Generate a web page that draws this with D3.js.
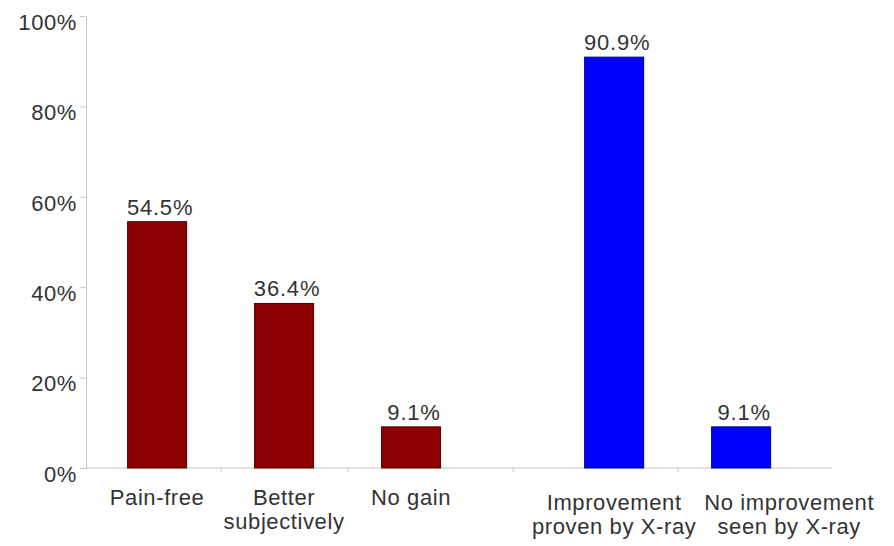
<!DOCTYPE html>
<html>
<head>
<meta charset="utf-8">
<script src="https://cdn.jsdelivr.net/npm/d3@7"></script>
<style>
  body { margin: 0; background: #fff; }
  text { font-family: "Liberation Sans", Arial, Helvetica, sans-serif; fill: #333; }
  .axis line, .axis path { stroke: #c8c8c8; }
</style>
</head>
<body>
<div id="chart"></div>
<script>
// data
const categories = ['Pain-free', 'Better subjectively', 'No gain', 'Improvement proven by X-ray', 'No improvement seen by X-ray'];
const labelLines = [['Pain-free'], ['Better', 'subjectively'], ['No gain'], ['Improvement', 'proven by X-ray'], ['No improvement', 'seen by X-ray']];
const values = [54.5, 36.4, 9.1, 90.9, 9.1];
const groups = [0, 0, 0, 1, 1];
const yTicks = [0, 20, 40, 60, 80, 100];

const width = 894;
const height = 546;
const colors = ['#8b0000', '#0000ff'];
const strokes = ['#5a0000', '#00008a'];
const groupGap = 0.6;   // extra slot space between the two groups
const barFrac = 0.465;  // bar width as part of a slot
const fontSize = '22px';
const labelTop = 505;
const lineGap = 24;

const svg = d3.select('#chart').append('svg')
    .attr('width', width)
    .attr('height', height);

const data = categories.map((c, i) => ({
  name: c,
  lines: labelLines[i],
  value: values[i],
  group: groups[i],
  slot: i + groups[i] * groupGap
}));

const x = d3.scaleLinear()
    .domain([-0.56, 5.3])
    .range([86, 830]);

const y = d3.scaleLinear()
    .domain([0, 100])
    .range([468, 16]);

const bw = x(barFrac) - x(0);

// y axis
const yAxis = svg.append('g')
    .attr('class', 'axis')
    .attr('transform', 'translate(' + x.range()[0] + ',0)')
    .call(d3.axisLeft(y).tickValues(yTicks).tickFormat(d => d + '%').tickSizeInner(6).tickSizeOuter(0));
yAxis.selectAll('text')
    .attr('x', -9)
    .attr('dy', '0.6em')
    .style('font-size', fontSize)
    .style('letter-spacing', '0.6px');

// x axis line with small ticks between bars
const mids = data.slice(1).map((d, i) => (d.slot + data[i].slot) / 2);
const xAxis = svg.append('g')
    .attr('class', 'axis')
    .attr('transform', 'translate(0,' + y(0) + ')')
    .call(d3.axisBottom(x).tickValues(mids).tickFormat('').tickSizeInner(4).tickSizeOuter(0));
xAxis.select('.domain').attr('d', 'M' + x.range()[0] + ',0H' + (x.range()[1] + 2));

// bars
svg.selectAll('.bar')
    .data(data)
    .enter().append('rect')
    .attr('class', 'bar')
    .attr('x', d => x(d.slot) - bw / 2)
    .attr('y', d => y(d.value))
    .attr('width', bw)
    .attr('height', d => y(0) - y(d.value))
    .attr('fill', d => colors[d.group])
    .attr('stroke', d => strokes[d.group])
    .attr('stroke-width', 1);

// value labels
svg.selectAll('.val')
    .data(data)
    .enter().append('text')
    .attr('class', 'val')
    .attr('x', d => x(d.slot) + 3)
    .attr('y', d => y(d.value) - 7)
    .attr('text-anchor', 'middle')
    .style('font-size', fontSize)
    .style('letter-spacing', '0.8px')
    .text(d => d.value.toFixed(1) + '%');

// category labels
const cats = svg.selectAll('.cat')
    .data(data)
    .enter().append('text')
    .attr('class', 'cat')
    .attr('text-anchor', 'middle')
    .attr('transform', d => 'translate(' + x(d.slot) + ',' + (labelTop + d.group * 5) + ')')
    .style('font-size', fontSize)
    .style('letter-spacing', '0.6px');
cats.selectAll('tspan')
    .data(d => d.lines)
    .enter().append('tspan')
    .attr('x', 0)
    .attr('dy', (d, i) => i === 0 ? 0 : lineGap)
    .text(d => d);

// push a label right if it runs into the one before it
let prevRight = -Infinity;
cats.each(function(d) {
  const b = this.getBBox();
  let cx = x(d.slot);
  if (cx + b.x < prevRight + 8) cx += prevRight + 8 - (cx + b.x);
  d3.select(this).attr('transform', 'translate(' + cx + ',' + (labelTop + d.group * 5) + ')');
  prevRight = cx + b.x + b.width;
});
</script>
</body>
</html>
